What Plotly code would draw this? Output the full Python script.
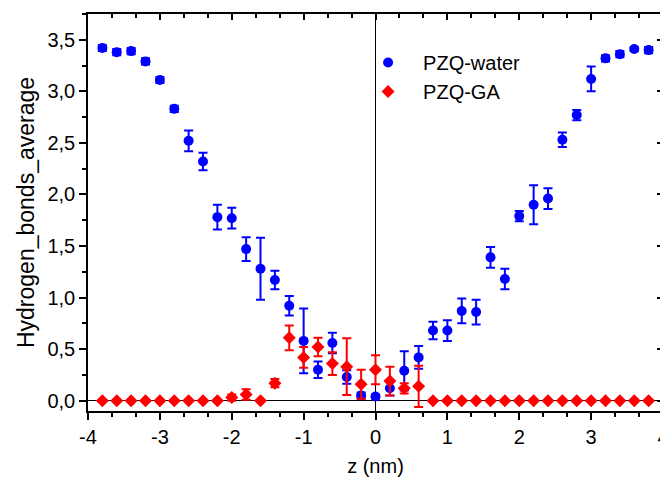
import plotly.graph_objects as go

# ---- data ----
Z = [-3.8, -3.6, -3.4, -3.2, -3.0, -2.8, -2.6, -2.4, -2.2, -2.0,
     -1.8, -1.6, -1.4, -1.2, -1.0, -0.8, -0.6, -0.4, -0.2, 0.0,
     0.2, 0.4, 0.6, 0.8, 1.0, 1.2, 1.4, 1.6, 1.8, 2.0,
     2.2, 2.4, 2.6, 2.8, 3.0, 3.2, 3.4, 3.6, 3.8]

WATER = [3.42, 3.38, 3.39, 3.29, 3.11, 2.83, 2.52, 2.32, 1.78, 1.77,
         1.47, 1.28, 1.17, 0.92, 0.58, 0.30, 0.56, 0.23, 0.05, 0.04,
         0.12, 0.29, 0.42, 0.68, 0.68, 0.87, 0.86, 1.39, 1.18, 1.79,
         1.90, 1.96, 2.53, 2.77, 3.12, 3.32, 3.36, 3.41, 3.40]
WATER_ERR = [0.03, 0.03, 0.03, 0.03, 0.03, 0.03, 0.10, 0.085, 0.12, 0.10,
             0.115, 0.30, 0.09, 0.095, 0.315, 0.08, 0.10, 0.065, 0.03, 0.02,
             0.07, 0.19, 0.11, 0.085, 0.10, 0.12, 0.12, 0.10, 0.10, 0.05,
             0.19, 0.10, 0.07, 0.05, 0.12, 0.03, 0.03, 0.02, 0.03]

GA = [0.0, 0.0, 0.0, 0.0, 0.0, 0.0, 0.0, 0.0, 0.0, 0.03,
      0.06, 0.0, 0.17, 0.61, 0.42, 0.52, 0.36, 0.33, 0.16, 0.30,
      0.19, 0.12, 0.14, 0.0, 0.0, 0.0, 0.0, 0.0, 0.0, 0.0,
      0.0, 0.0, 0.0, 0.0, 0.0, 0.0, 0.0, 0.0, 0.0]
GA_ERR = [0.0, 0.0, 0.0, 0.0, 0.0, 0.0, 0.0, 0.0, 0.0, 0.03,
          0.05, 0.0, 0.04, 0.12, 0.10, 0.09, 0.11, 0.275, 0.14, 0.14,
          0.14, 0.05, 0.20, 0.0, 0.0, 0.0, 0.0, 0.0, 0.0, 0.0,
          0.0, 0.0, 0.0, 0.0, 0.0, 0.0, 0.0, 0.0, 0.0]

X_TICKS = [-4, -3, -2, -1, 0, 1, 2, 3, 4]
X_LABELS = ["-4", "-3", "-2", "-1", "0", "1", "2", "3", "4"]
Y_TICKS = [0.0, 0.5, 1.0, 1.5, 2.0, 2.5, 3.0, 3.5]
Y_LABELS = ["0,0", "0,5", "1,0", "1,5", "2,0", "2,5", "3,0", "3,5"]

X_RANGE = [-4, 4]
Y_RANGE = [-0.1, 3.75]

FONT = "Arial, 'Liberation Sans', sans-serif"
BLUE = "#0000FF"
RED = "#FF0000"

fig = go.Figure()
fig.add_trace(go.Scatter(
    x=Z, y=WATER, mode="markers", name="PZQ-water",
    marker=dict(symbol="circle", size=10, color=BLUE),
    error_y=dict(type="data", array=WATER_ERR, visible=True,
                 color=BLUE, thickness=2, width=4.5),
))
fig.add_trace(go.Scatter(
    x=Z, y=GA, mode="markers", name="PZQ-GA",
    marker=dict(symbol="diamond", size=10, color=RED),
    error_y=dict(type="data", array=GA_ERR, visible=True,
                 color=RED, thickness=2, width=4.5),
))
# helper trace so the mirrored (top/right) axes get drawn
fig.add_trace(go.Scatter(x=[X_RANGE[0]], y=[Y_RANGE[0]], xaxis="x2", yaxis="y2",
                         mode="markers", marker=dict(opacity=0),
                         showlegend=False, hoverinfo="skip"))

axis_common = dict(showgrid=False, linecolor="black", linewidth=1.5,
                   tickcolor="black", tickwidth=1.5, automargin=False)

# the page body adds an 8 px offset, so the figure is 8 px smaller
fig.update_layout(
    width=660, height=475,
    margin=dict(l=80, r=5, t=6, b=72, autoexpand=False),
    paper_bgcolor="white", plot_bgcolor="white",
    font=dict(family=FONT, size=20, color="black"),
    showlegend=True,
    legend=dict(x=0.461, y=0.927, xanchor="left", yanchor="top",
                bgcolor="rgba(0,0,0,0)", borderwidth=0,
                font=dict(family=FONT, size=20, color="black"),
                itemwidth=60, tracegroupgap=0),
    xaxis=dict(
        range=X_RANGE, tickmode="array", tickvals=X_TICKS, ticktext=X_LABELS,
        ticks="outside", ticklen=7, showline=True, mirror=True,
        ticklabeloverflow="allow",
        zeroline=True, zerolinecolor="black", zerolinewidth=1.2,
        minor=dict(tickmode="linear", tick0=-4, dtick=1/3, ticks="outside",
                   ticklen=4, tickcolor="black", tickwidth=1.5),
        tickfont=dict(family=FONT, size=20),
        title=dict(text="z (nm)", font=dict(family=FONT, size=20), standoff=12),
        **axis_common,
    ),
    yaxis=dict(
        range=Y_RANGE, tickmode="array", tickvals=Y_TICKS, ticktext=Y_LABELS,
        ticks="outside", ticklen=7, showline=True, mirror=True,
        zeroline=True, zerolinecolor="black", zerolinewidth=1.2,
        minor=dict(tickmode="linear", tick0=0, dtick=0.25, ticks="outside",
                   ticklen=4, tickcolor="black", tickwidth=1.5),
        tickfont=dict(family=FONT, size=20),
        title=dict(text="Hydrogen_bonds_average", font=dict(family=FONT, size=23),
                   standoff=6),
        **axis_common,
    ),
    xaxis2=dict(
        range=X_RANGE, overlaying="x", side="top", anchor="y2",
        tickmode="array", tickvals=X_TICKS, showticklabels=False,
        ticks="inside", ticklen=6, showline=False, zeroline=False,
        minor=dict(tickmode="linear", tick0=-4, dtick=1/3, ticks="inside",
                   ticklen=3.5, tickcolor="black", tickwidth=1.5),
        **axis_common,
    ),
    yaxis2=dict(
        range=Y_RANGE, overlaying="y", side="right", anchor="x2",
        tickmode="array", tickvals=Y_TICKS, showticklabels=False,
        ticks="inside", ticklen=6, showline=False, zeroline=False,
        minor=dict(tickmode="linear", tick0=0, dtick=0.25, ticks="inside",
                   ticklen=3.5, tickcolor="black", tickwidth=1.5),
        **axis_common,
    ),
)

fig.write_html("out.html")
